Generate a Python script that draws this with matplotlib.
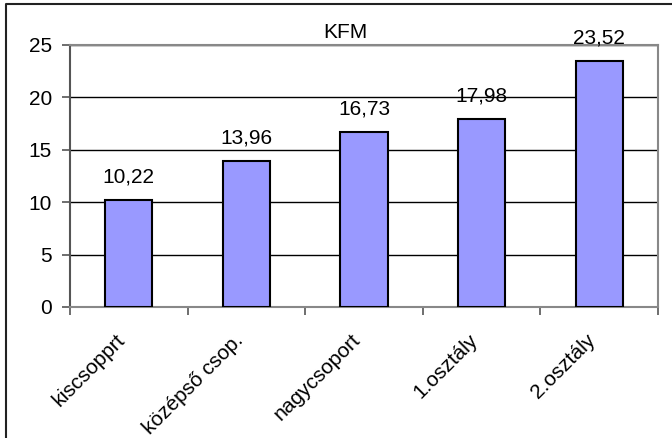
import numpy as np
import matplotlib.pyplot as plt
import matplotlib.transforms as mtransforms
from matplotlib.lines import Line2D

plt.rcParams['font.family'] = ['Liberation Sans', 'DejaVu Sans']

# adatok
categories = ['kiscsopprt', 'középső csop.', 'nagycsoport', '1.osztály', '2.osztály']
values = [10.22, 13.96, 16.73, 17.98, 23.52]
title = 'KFM'

W, H = 672, 438
fs = 15
fig = plt.figure(figsize=(W / 100, H / 100), dpi=100)
ax = fig.add_axes([70 / W, 1 - 307 / H, (658 - 70) / W, (307 - 45) / H])

x = np.arange(len(categories))
ax.bar(x, values, width=0.4, color='#9999FF', edgecolor='black', linewidth=1.5, zorder=3)

for xi, v in zip(x, values):
    ax.annotate(f'{v:.2f}'.replace('.', ','), (xi, v), xytext=(0, 16.5),
                textcoords='offset points', ha='center', va='center', fontsize=fs)

ax.set_xlim(-0.5, len(categories) - 0.5)
ax.set_ylim(0, 25)
ax.set_yticks(np.arange(0, 26, 5))
ax.yaxis.grid(True, color='black', linewidth=1, zorder=0)
ax.set_axisbelow(True)

# kategoria hatarok jelolese
ax.set_xticks(np.arange(-0.5, len(categories), 1.0))
ax.set_xticklabels([])
ax.set_xticks(x, minor=True)
ax.set_xticklabels(categories, minor=True, rotation=45, ha='right',
                   rotation_mode='anchor', fontsize=fs)
ax.tick_params(axis='x', which='minor', length=0, pad=17)
ax.tick_params(axis='x', which='major', length=6, width=1.2, color='#555555', direction='out')
ax.tick_params(axis='y', length=6, width=1.2, color='#555555', pad=7, labelsize=fs)

# cimkek eltolasa balra
shift = mtransforms.ScaledTranslation(-13 / 100, 0, fig.dpi_scale_trans)
for lbl in ax.get_xticklabels(minor=True):
    lbl.set_transform(lbl.get_transform() + shift)

for side in ['top', 'right', 'bottom']:
    ax.spines[side].set_color('#888888')
    ax.spines[side].set_linewidth(1.5)
ax.spines['left'].set_color('#555555')
ax.spines['left'].set_linewidth(1.5)

fig.text(345 / W, 1 - 32 / H, title, ha='center', va='center', fontsize=fs)

# kulso keret
fig.add_artist(Line2D([6 / W, 6 / W, 1.0], [0, 1 - 4 / H, 1 - 4 / H],
                      transform=fig.transFigure, color='#222222', linewidth=1.5))

fig.savefig('out.png', dpi=100)
